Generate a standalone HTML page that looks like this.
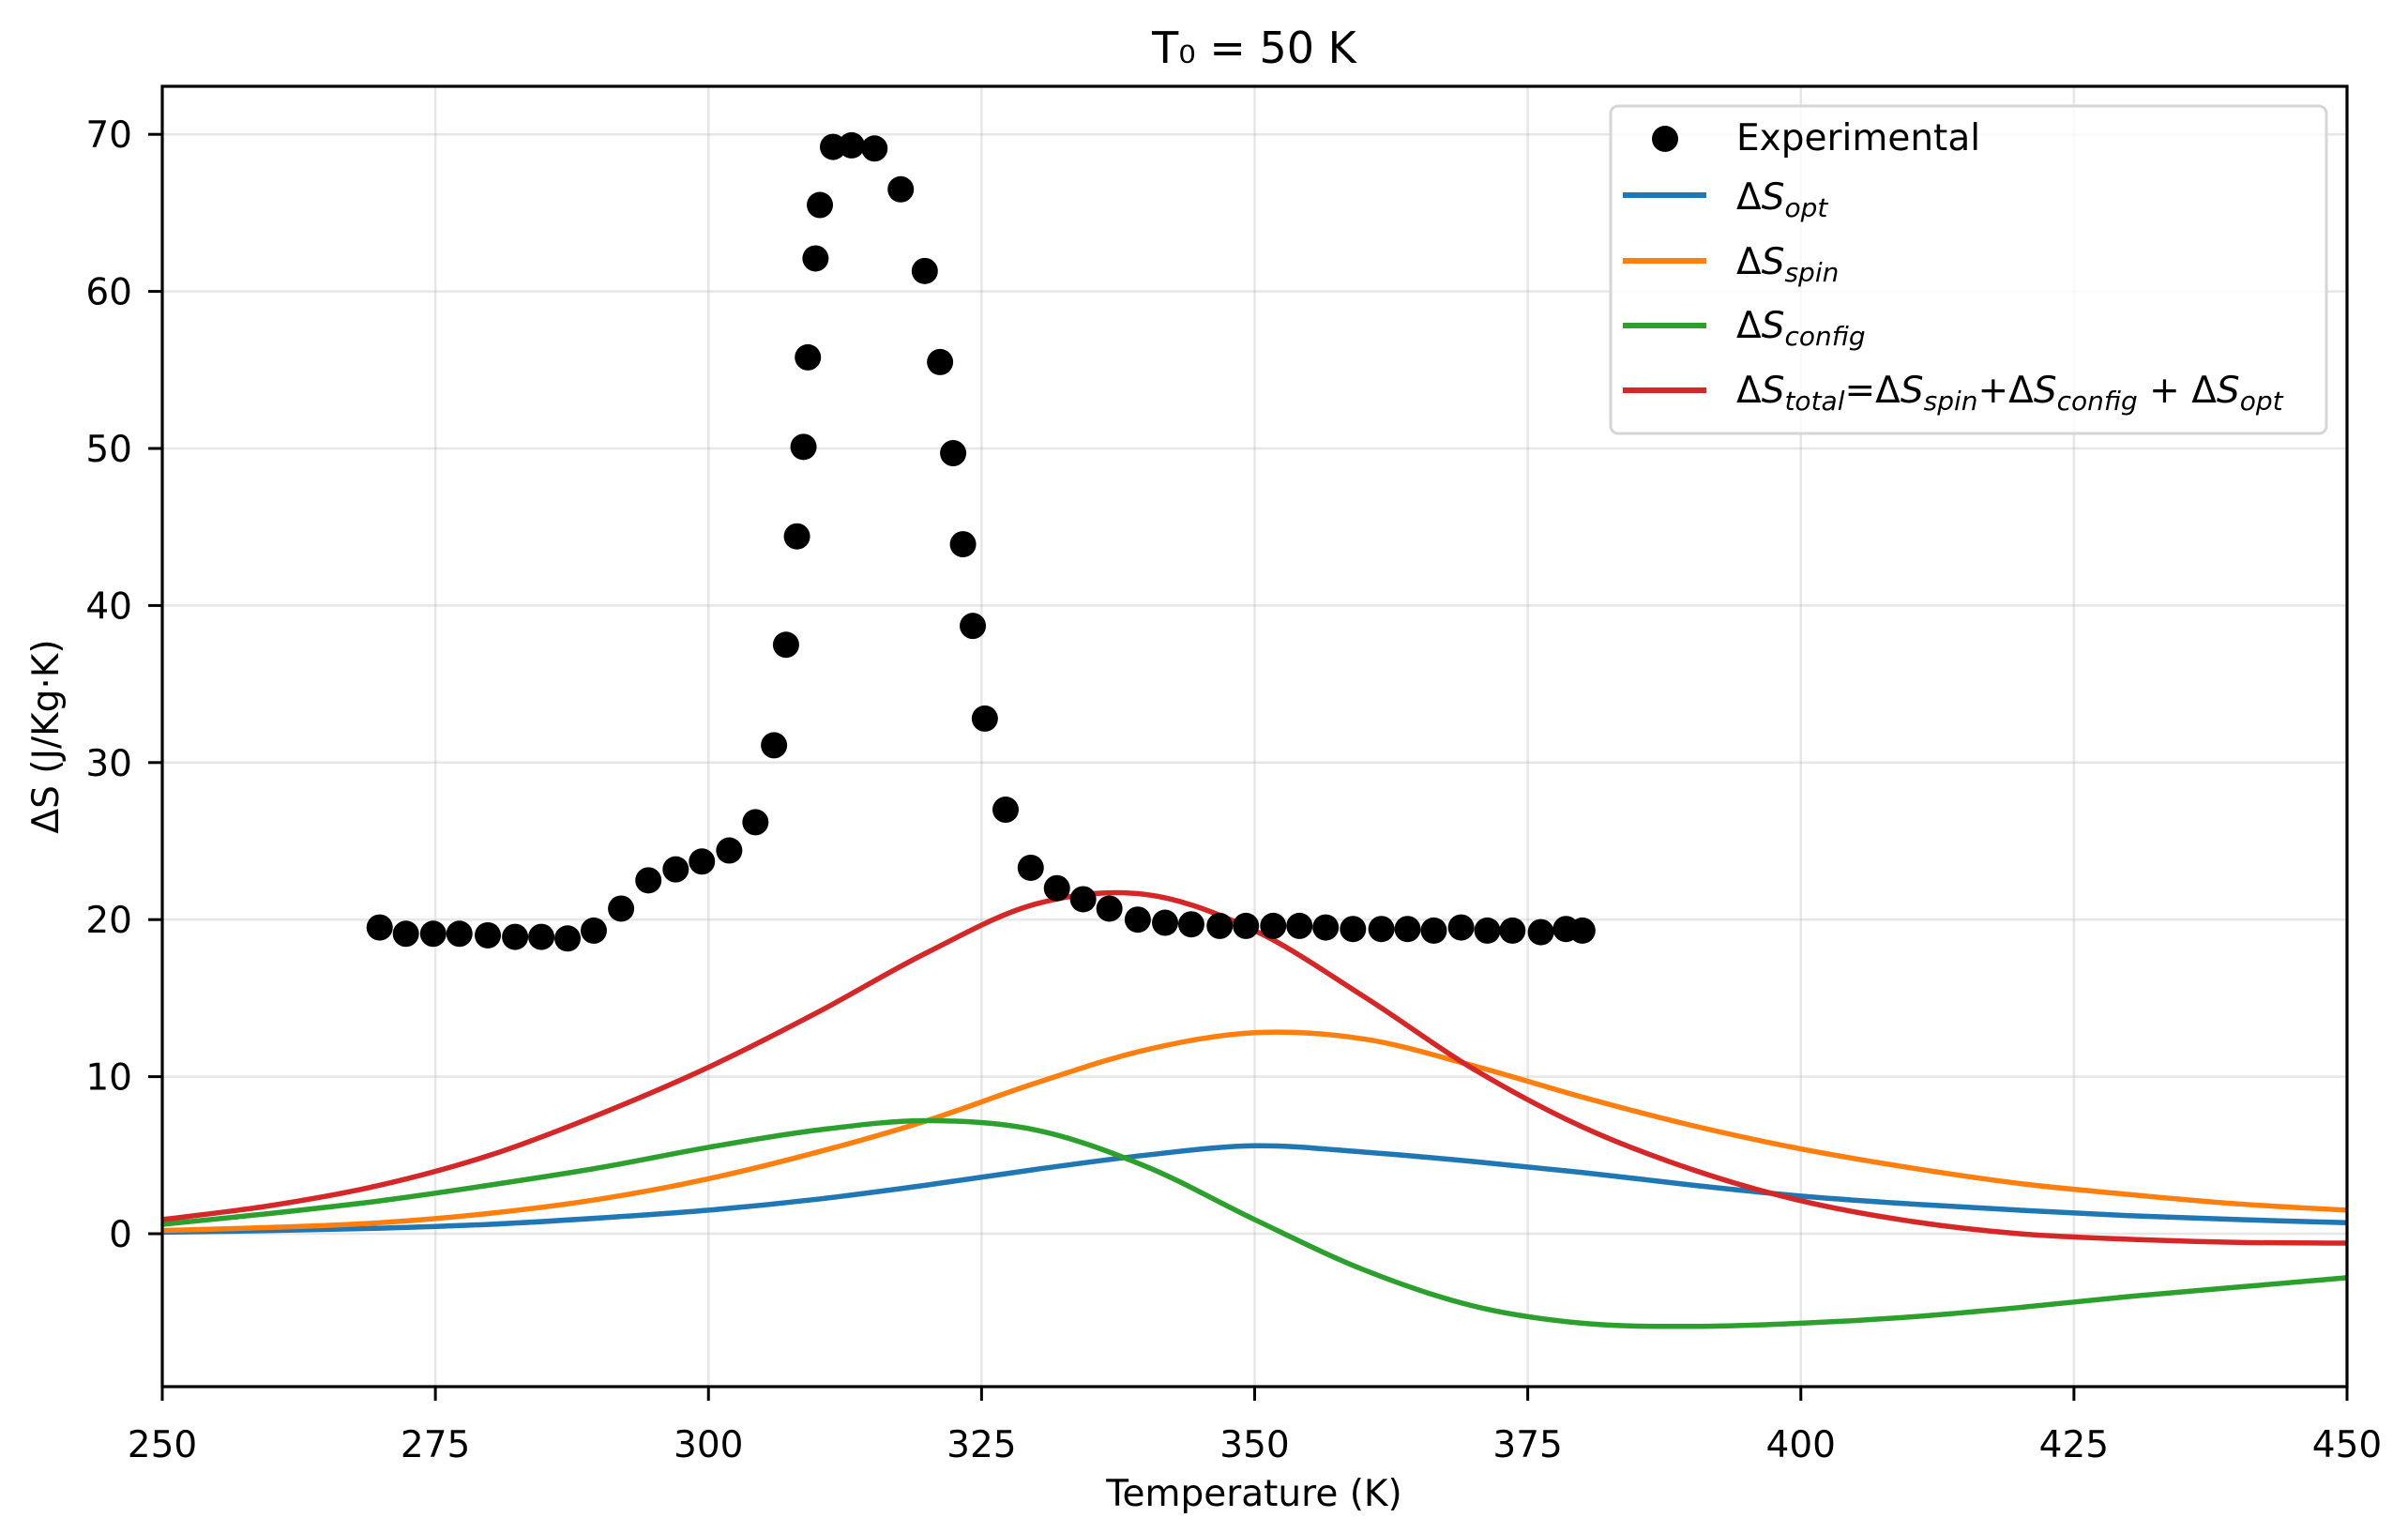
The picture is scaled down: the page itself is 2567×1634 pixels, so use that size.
<!DOCTYPE html>
<html><head><meta charset="utf-8"><style>
body{margin:0;background:#fff;}
svg{display:block;font-family:"DejaVu Sans","Liberation Sans",sans-serif;}
.i{font-style:italic;}
</style></head><body>
<svg id="chart" width="2567" height="1634" xmlns="http://www.w3.org/2000/svg">
<rect width="2567" height="1634" fill="#fff"/>
<g id="grid"></g>
<g id="series"></g>
<g id="axes"></g>
<text x="1337" y="67" font-size="46" text-anchor="middle">T₀ = 50 K</text>
<text x="1337" y="1605" font-size="39" text-anchor="middle">Temperature (K)</text>
<text transform="translate(62,785) rotate(-90)" font-size="39" text-anchor="middle">ΔS (J/Kg·K)</text>
<g id="legend">
<rect x="1717" y="113" width="763" height="349" rx="8" fill="#fff" fill-opacity="0.8" stroke="#d6d6d6" stroke-width="3"/>
<g><circle cx="1775" cy="148" r="14" fill="#000"/><text x="1851" y="160" font-size="39">Experimental</text></g>
<g><line x1="1730" x2="1819" y1="208" y2="208" stroke="#1f77b4" stroke-width="6"/><text x="1851" y="223" font-size="39">Δ<tspan class="i">S</tspan><tspan class="i" font-size="28" dy="8">opt</tspan></text></g>
<g><line x1="1730" x2="1819" y1="278" y2="278" stroke="#ff7f0e" stroke-width="6"/><text x="1851" y="292" font-size="39">Δ<tspan class="i">S</tspan><tspan class="i" font-size="28" dy="8">spin</tspan></text></g>
<g><line x1="1730" x2="1819" y1="347" y2="347" stroke="#2ca02c" stroke-width="6"/><text x="1851" y="360" font-size="39">Δ<tspan class="i">S</tspan><tspan class="i" font-size="28" dy="8">config</tspan></text></g>
<g><line x1="1730" x2="1819" y1="416" y2="416" stroke="#d62728" stroke-width="6"/><text x="1851" y="429" font-size="39">Δ<tspan class="i">S</tspan><tspan class="i" font-size="28" dy="8">total</tspan><tspan dy="-8">=Δ</tspan><tspan class="i">S</tspan><tspan class="i" font-size="28" dy="8">spin</tspan><tspan dy="-8">+Δ</tspan><tspan class="i">S</tspan><tspan class="i" font-size="28" dy="8">config</tspan><tspan dy="-8"> + Δ</tspan><tspan class="i">S</tspan><tspan class="i" font-size="28" dy="8">opt</tspan></text></g>
</g>
</svg>
<script>
const expT=[269.9,272.3,274.8,277.2,279.8,282.3,284.7,287.1,289.5,292,294.5,297,299.4,301.9,304.3,306,307.1,308.1,308.7,309.1,309.8,310.2,311.4,313.1,315.2,317.6,319.8,321.2,322.4,323.3,324.2,325.3,327.2,329.5,331.9,334.3,336.7,339.3,341.8,344.2,346.8,349.2,351.7,354.1,356.5,359,361.6,364,366.4,368.9,371.3,373.6,376.2,378.5,380];
const expS=[19.5,19.1,19.1,19.1,19.0,18.9,18.9,18.8,19.3,20.7,22.5,23.2,23.7,24.4,26.2,31.1,37.5,44.4,50.1,55.8,62.1,65.5,69.2,69.3,69.1,66.5,61.3,55.5,49.7,43.9,38.7,32.8,27.0,23.3,22.0,21.3,20.7,20.0,19.8,19.7,19.6,19.6,19.6,19.6,19.5,19.4,19.4,19.4,19.3,19.5,19.3,19.3,19.2,19.4,19.3];
const modelT=[250,260,270,280,290,300,310,320,330,340,350,360,370,380,390,400,410,420,430,440,450];
const sOpt=[0.1,0.2,0.35,0.6,1.0,1.5,2.2,3.1,4.1,5.0,5.6,5.2,4.6,3.9,3.1,2.4,1.9,1.5,1.15,0.9,0.7];
const sSpin=[0.2,0.4,0.7,1.3,2.2,3.5,5.2,7.2,9.6,11.7,12.8,12.4,10.7,8.7,6.9,5.4,4.2,3.2,2.5,1.9,1.5];
const sConfig=[0.6,1.3,2.1,3.1,4.2,5.5,6.6,7.2,6.6,4.3,0.9,-2.3,-4.6,-5.7,-5.9,-5.7,-5.3,-4.7,-4.0,-3.4,-2.8];
const sTotal=[0.9,1.8,3.1,5.0,7.6,10.6,14.1,17.9,21.0,21.6,19.3,15.1,10.5,6.8,4.1,2.1,0.8,0.0,-0.35,-0.55,-0.6];
const xTicks=[250,275,300,325,350,375,400,425,450];
const yTicks=[0,10,20,30,40,50,60,70];

const NS='http://www.w3.org/2000/svg';
const L=173,R=2502,T=92,B=1478;
const xMin=250,xMax=450,y0px=1315,pxPer=16.74;
const X=v=>L+(v-xMin)/(xMax-xMin)*(R-L);
const Y=v=>y0px-v*pxPer;
function mk(tag,attrs,parent){const e=document.createElementNS(NS,tag);for(const k in attrs)e.setAttribute(k,attrs[k]);parent.appendChild(e);return e;}
const grid=document.getElementById('grid'),axes=document.getElementById('axes'),series=document.getElementById('series');
xTicks.forEach(t=>{
  const g=mk('line',{x1:X(t),x2:X(t),y1:T,y2:B,stroke:'#b0b0b0','stroke-opacity':0.3,'stroke-width':2.5},grid);
  
  
  const tk=mk('line',{x1:X(t),x2:X(t),y1:B,y2:B+15,stroke:'#000','stroke-width':3},axes);
  
  
  const tx=mk('text',{x:X(t),y:B+75,'font-size':39,'text-anchor':'middle'},axes);
  
  
  tx.textContent=t;
});
yTicks.forEach(t=>{
  const g=mk('line',{x1:L,x2:R,y1:Y(t),y2:Y(t),stroke:'#b0b0b0','stroke-opacity':0.3,'stroke-width':2.5},grid);
  
  
  const tk=mk('line',{x1:L-15,x2:L,y1:Y(t),y2:Y(t),stroke:'#000','stroke-width':3},axes);
  
  
  const tx=mk('text',{x:L-32,y:Y(t)+14,'font-size':39,'text-anchor':'end'},axes);
  
  
  tx.textContent=t;
});
const fr=mk('rect',{x:L,y:T,width:R-L,height:B-T,fill:'none',stroke:'#000','stroke-width':3.2},axes);


function smooth(xs,ys){
  const p=xs.map((x,i)=>[X(x),Y(ys[i])]);
  let d='M'+p[0][0]+','+p[0][1];
  for(let i=0;i<p.length-1;i++){
    const p0=p[i-1]||p[i],p1=p[i],p2=p[i+1],p3=p[i+2]||p[i+1];
    const c1=[p1[0]+(p2[0]-p0[0])/6,p1[1]+(p2[1]-p0[1])/6];
    const c2=[p2[0]-(p3[0]-p1[0])/6,p2[1]-(p3[1]-p1[1])/6];
    d+=' C'+c1[0]+','+c1[1]+' '+c2[0]+','+c2[1]+' '+p2[0]+','+p2[1];
  }
  return d;
}
[[sOpt,'#1f77b4','line-opt'],[sSpin,'#ff7f0e','line-spin'],[sConfig,'#2ca02c','line-config'],[sTotal,'#d62728','line-total']].forEach(([ys,c,n])=>{
  const p=mk('path',{d:smooth(modelT,ys),fill:'none',stroke:c,'stroke-width':5.5},series);
  
  
});
expT.forEach((t,i)=>{
  const c=mk('circle',{cx:X(t),cy:Y(expS[i]),r:14,fill:'#000'},series);
  
  
});
</script>
</body></html>
